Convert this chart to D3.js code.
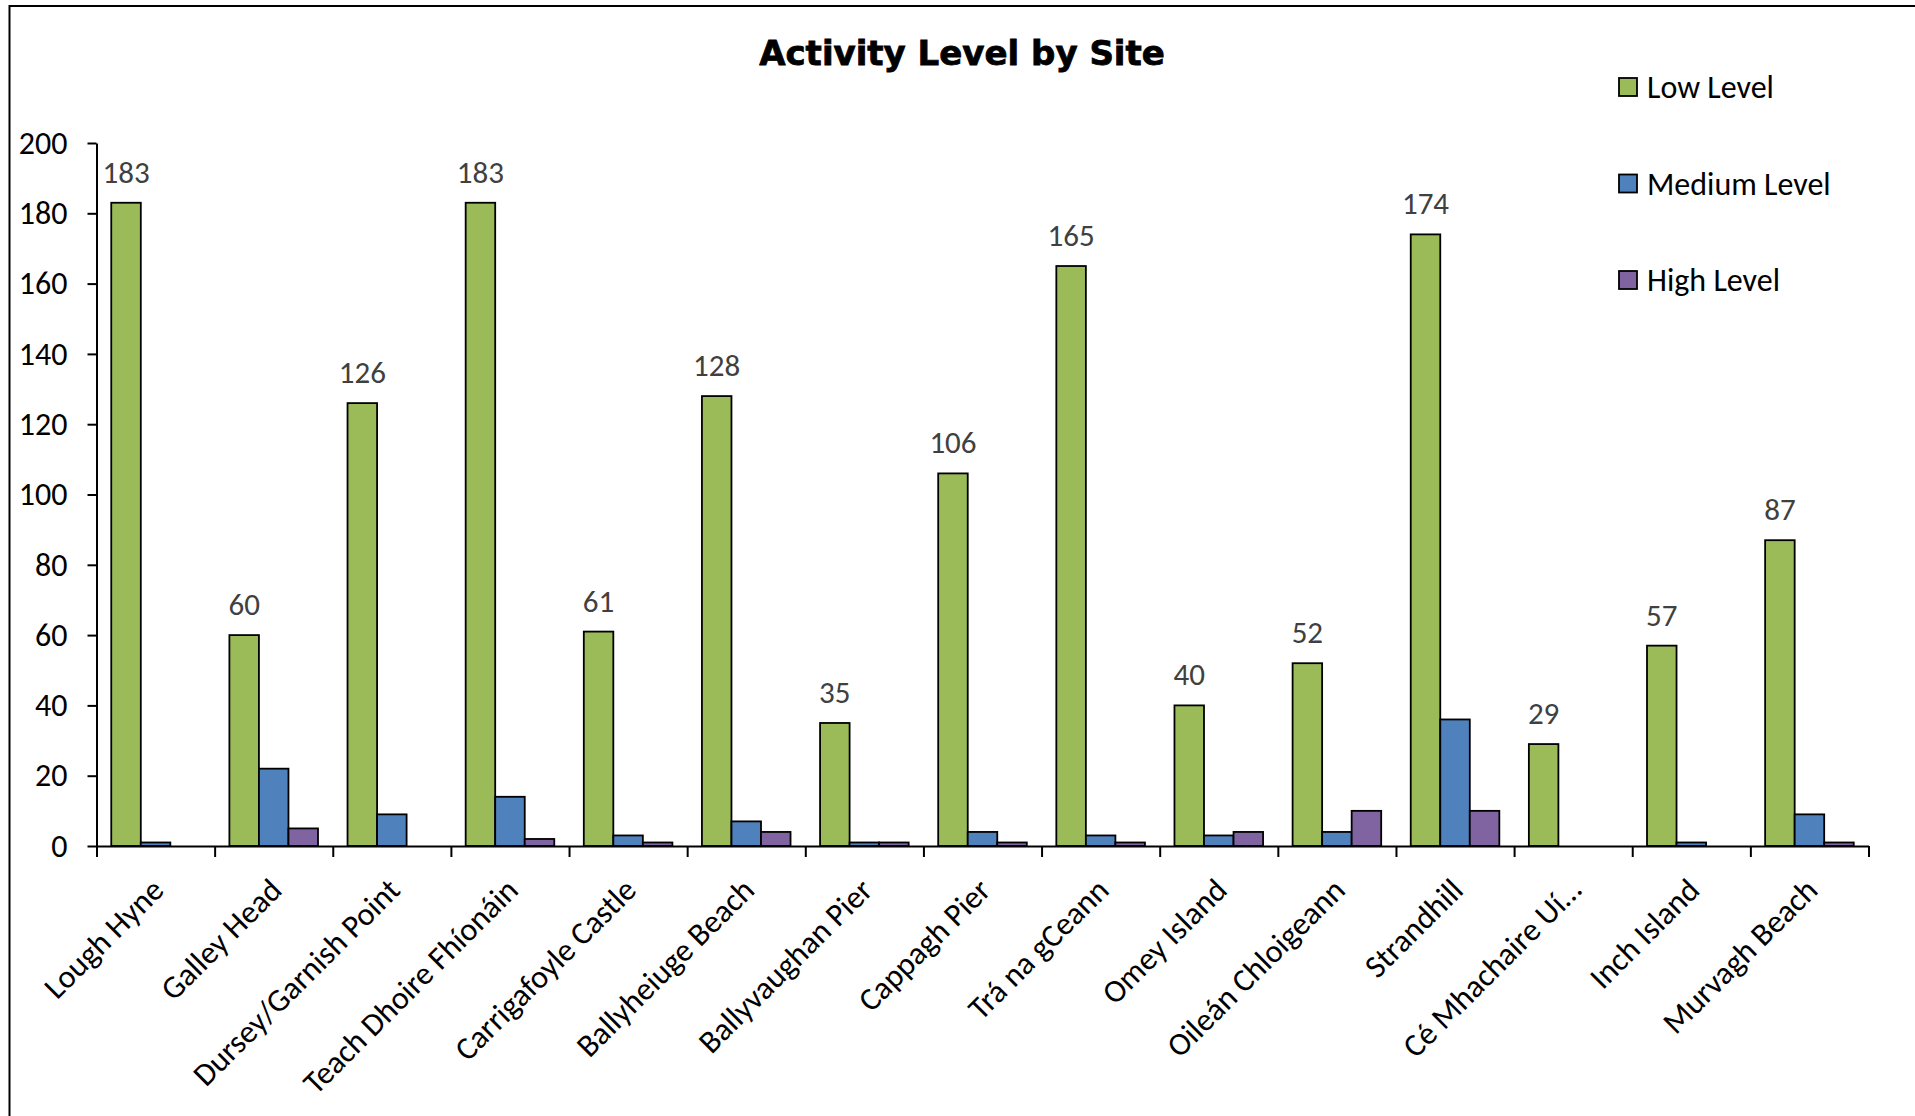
<!DOCTYPE html>
<html>
<head>
<meta charset="utf-8">
<script src="https://cdn.jsdelivr.net/npm/d3@7"></script>
<style>
  html, body { margin: 0; padding: 0; background: #fff; }
  svg { display: block; font-family: Carlito, Calibri, Lato, "Open Sans", sans-serif; }
</style>
</head>
<body>
<svg id="chart" width="1915" height="1116"></svg>
<script>
// Sites along the horizontal axis
const categories = [
  "Lough Hyne", "Galley Head", "Dursey/Garnish Point", "Teach Dhoire Fhíonáin",
  "Carrigafoyle Castle", "Ballyheiuge Beach", "Ballyvaughan Pier", "Cappagh Pier",
  "Trá na gCeann", "Omey Island", "Oileán Chloigeann", "Strandhill",
  "Cé Mhachaire Uí…", "Inch Island", "Murvagh Beach"
];

// Counts per activity level
const lowLevel    = [183, 60, 126, 183, 61, 128, 35, 106, 165, 40, 52, 174, 29, 57, 87];
const mediumLevel = [1, 22, 9, 14, 3, 7, 1, 4, 3, 3, 4, 36, 0, 1, 9];
const highLevel   = [0, 5, 0, 2, 1, 4, 1, 1, 1, 4, 10, 10, 0, 0, 1];

const seriesNames  = ["Low Level", "Medium Level", "High Level"];
const seriesColors = ["#9BBB59", "#4F81BD", "#8064A2"];
const yTicks = [0, 20, 40, 60, 80, 100, 120, 140, 160, 180, 200];

const series = [lowLevel, mediumLevel, highLevel];

const svg = d3.select("#chart");

// plot area
const plotLeft = 96.5, plotRight = 1868.5, plotTop = 143, plotBottom = 846;

const x = d3.scaleBand().domain(categories).range([plotLeft, plotRight]).paddingInner(0).paddingOuter(0);
const xInner = d3.scaleBand().domain(seriesNames).range([0, x.bandwidth()])
  .paddingInner(0).paddingOuter(0.5);
const y = d3.scaleLinear().domain([0, 200]).range([plotBottom, plotTop]);

// outer frame of the chart area
svg.append("rect")
  .attr("x", 9.5).attr("y", 6)
  .attr("width", 2000).attr("height", 2000)
  .attr("fill", "none").attr("stroke", "#000").attr("stroke-width", 2);

// title
svg.append("text")
  .attr("x", 962).attr("y", 65)
  .attr("text-anchor", "middle")
  .attr("font-family", "Tahoma, 'DejaVu Sans', Verdana, sans-serif")
  .attr("font-size", 34).attr("font-weight", "bold")
  .attr("fill", "#000")
  .attr("stroke", "#000").attr("stroke-width", 0.8)
  .text("Activity Level by Site");

// bars
const groups = svg.append("g").selectAll("g")
  .data(categories)
  .join("g")
  .attr("transform", d => `translate(${x(d)},0)`);

groups.selectAll("rect")
  .data((d, i) => series.map((s, k) => ({ name: seriesNames[k], value: s[i], color: seriesColors[k] })))
  .join("rect")
  .attr("x", d => xInner(d.name))
  .attr("width", xInner.bandwidth())
  .attr("y", d => y(d.value))
  .attr("height", d => y(0) - y(d.value))
  .attr("fill", d => d.color)
  .attr("stroke", "#000")
  .attr("stroke-width", 1.8);

// value labels over the low-level bars
groups.append("text")
  .attr("x", xInner("Low Level") + xInner.bandwidth() / 2)
  .attr("y", (d, i) => y(lowLevel[i]) - 20)
  .attr("text-anchor", "middle")
  .attr("font-size", 31)
  .attr("fill", "#404040")
  .text((d, i) => lowLevel[i]);

// y axis
const yAxis = svg.append("g")
  .attr("transform", `translate(${plotLeft},0)`)
  .call(d3.axisLeft(y).tickValues(yTicks).tickSize(9).tickSizeOuter(0).tickPadding(20));
yAxis.select(".domain").attr("stroke", "#000").attr("stroke-width", 2);
yAxis.selectAll(".tick line").attr("stroke", "#000").attr("stroke-width", 2);
yAxis.selectAll(".tick text").attr("font-size", 32).attr("fill", "#000")
  .attr("font-family", "Carlito, Calibri, Lato, sans-serif");

// x axis: ticks at category boundaries
const xEdges = d3.scaleLinear().domain([0, categories.length]).range([plotLeft, plotRight]);
const xAxis = svg.append("g")
  .attr("transform", `translate(0,${plotBottom})`)
  .call(d3.axisBottom(xEdges).tickValues(d3.range(categories.length + 1))
    .tickSize(11).tickSizeOuter(0).tickFormat(""));
xAxis.select(".domain").attr("stroke", "#000").attr("stroke-width", 2);
xAxis.selectAll(".tick line").attr("stroke", "#000").attr("stroke-width", 2);

// rotated category labels
svg.append("g").selectAll("text")
  .data(categories)
  .join("text")
  .attr("transform", d => `translate(${x(d) + x.bandwidth() / 2 + 10},${plotBottom + 46}) rotate(-45)`)
  .attr("text-anchor", "end")
  .attr("font-size", 32)
  .attr("fill", "#000")
  .text(d => d);

// legend
const legend = svg.append("g").selectAll("g")
  .data(seriesNames)
  .join("g")
  .attr("transform", (d, i) => `translate(1619,${87 + i * 96.5})`);
legend.append("rect")
  .attr("x", 0).attr("y", -9)
  .attr("width", 18).attr("height", 18)
  .attr("fill", (d, i) => seriesColors[i])
  .attr("stroke", "#000").attr("stroke-width", 1.8);
legend.append("text")
  .attr("x", 28).attr("y", 0).attr("dy", "0.35em")
  .attr("font-size", 32)
  .attr("fill", "#000")
  .text(d => d);
</script>
</body>
</html>
